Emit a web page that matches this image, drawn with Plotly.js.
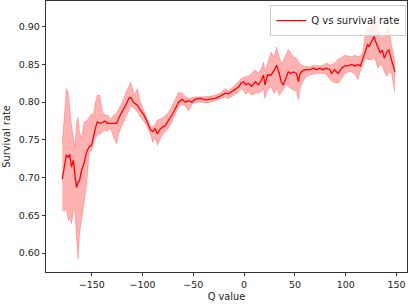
<!DOCTYPE html>
<html>
<head>
<meta charset="utf-8">
<script src="https://cdn.plot.ly/plotly-3.0.1.min.js"></script>
<style>html,body{margin:0;padding:0;background:#fff;}#chart{width:412px;height:304px;}</style>
</head>
<body>
<div id="chart"></div>
<script>
var qValues = [-179,-177,-175,-173,-171.5,-170,-168,-166.5,-165,-163.5,-162,-160,-157.5,-155,-152.5,-150,-148.5,-146.5,-144.5,-142,-139.5,-137,-134.5,-131.5,-128,-125.5,-123,-120,-116.5,-113.5,-111.5,-108.5,-105,-102,-98.5,-95.5,-92,-90,-87.5,-85.5,-83.5,-80.5,-77.5,-74,-71,-67.5,-64.5,-61,-58,-54.5,-51.5,-48,-43,-38,-33,-28.5,-23.5,-18.5,-15.5,-12,-9,-5.5,-3,-0.5,1.5,4,7.5,11,14,17,19,20.5,23,26.5,29.5,32,34.5,36.5,38.5,41,43.5,46,48.5,51.5,53.5,55,58,61.5,65,68,71.5,74.5,77.5,81,84.5,86,89,92.5,96,99,102.5,105.5,109,112,114.5,117,119.5,121.5,123,125,128,129.5,131.5,134,136,138,140.5,142.5,145,147,148.5];

var survivalRate = [0.698,0.715,0.730,0.727,0.731,0.714,0.723,0.703,0.687,0.694,0.696,0.710,0.719,0.734,0.741,0.743,0.754,0.765,0.774,0.772,0.773,0.775,0.772,0.772,0.771,0.772,0.780,0.787,0.796,0.805,0.806,0.799,0.796,0.789,0.783,0.774,0.763,0.761,0.765,0.758,0.763,0.767,0.769,0.777,0.783,0.792,0.800,0.804,0.800,0.802,0.800,0.804,0.805,0.803,0.804,0.805,0.808,0.812,0.811,0.814,0.817,0.820,0.825,0.827,0.823,0.825,0.821,0.827,0.823,0.829,0.836,0.823,0.836,0.836,0.842,0.849,0.838,0.827,0.823,0.831,0.840,0.838,0.840,0.838,0.827,0.838,0.842,0.843,0.843,0.845,0.843,0.845,0.843,0.845,0.843,0.838,0.843,0.838,0.845,0.848,0.848,0.850,0.848,0.850,0.848,0.858,0.869,0.876,0.874,0.880,0.887,0.880,0.872,0.865,0.869,0.858,0.867,0.869,0.856,0.845,0.840];

var upperBound = [0.745,0.780,0.818,0.812,0.785,0.770,0.754,0.739,0.772,0.780,0.760,0.752,0.774,0.775,0.780,0.785,0.780,0.800,0.809,0.809,0.787,0.783,0.783,0.778,0.783,0.786,0.792,0.800,0.812,0.822,0.827,0.809,0.818,0.800,0.789,0.778,0.767,0.768,0.770,0.776,0.777,0.779,0.782,0.788,0.795,0.805,0.813,0.812,0.807,0.805,0.806,0.807,0.807,0.807,0.808,0.809,0.812,0.818,0.815,0.819,0.823,0.827,0.831,0.833,0.834,0.834,0.838,0.843,0.838,0.845,0.853,0.842,0.851,0.866,0.860,0.873,0.860,0.852,0.855,0.862,0.870,0.865,0.860,0.858,0.853,0.851,0.848,0.847,0.847,0.849,0.848,0.848,0.849,0.852,0.849,0.850,0.852,0.857,0.859,0.862,0.861,0.860,0.862,0.860,0.861,0.867,0.895,0.898,0.899,0.902,0.911,0.909,0.896,0.887,0.885,0.889,0.896,0.902,0.876,0.860,0.854];

var lowerBound = [0.657,0.655,0.659,0.643,0.648,0.639,0.655,0.657,0.621,0.592,0.625,0.645,0.668,0.690,0.734,0.736,0.745,0.752,0.756,0.757,0.760,0.763,0.761,0.765,0.752,0.745,0.760,0.770,0.780,0.789,0.795,0.792,0.787,0.780,0.774,0.767,0.756,0.747,0.754,0.743,0.749,0.756,0.761,0.766,0.774,0.785,0.794,0.797,0.795,0.788,0.797,0.800,0.800,0.799,0.800,0.802,0.804,0.807,0.805,0.808,0.810,0.813,0.817,0.816,0.810,0.814,0.809,0.812,0.812,0.814,0.818,0.805,0.816,0.820,0.811,0.818,0.809,0.812,0.816,0.823,0.820,0.818,0.816,0.814,0.803,0.818,0.828,0.834,0.836,0.837,0.838,0.838,0.838,0.836,0.830,0.828,0.826,0.825,0.831,0.838,0.840,0.840,0.837,0.830,0.842,0.851,0.858,0.857,0.856,0.856,0.858,0.855,0.845,0.850,0.848,0.840,0.834,0.840,0.838,0.823,0.812];

var xTickVals = [-150,-100,-50,0,50,100,150];
var xTickText = ["\u2212150","\u2212100","\u221250","0","50","100","150"];
var yTickVals = [0.60,0.65,0.70,0.75,0.80,0.85,0.90];
var yTickText = ["0.60","0.65","0.70","0.75","0.80","0.85","0.90"];

var FONT = "DejaVu Sans, sans-serif";
var band = "rgba(255,0,0,0.3)";

var traces = [
  {x: qValues, y: lowerBound, mode: "lines", line: {color: band, width: 0.7}, showlegend: false, hoverinfo: "skip"},
  {x: qValues, y: upperBound, mode: "lines", fill: "tonexty", fillcolor: band, line: {color: band, width: 0.7}, showlegend: false, hoverinfo: "skip"},
  {x: qValues, y: survivalRate, mode: "lines", name: "Q vs survival rate", line: {color: "#ff0000", width: 1.3}}
];

var axisCommon = {
  showline: true, mirror: true, linecolor: "#000", linewidth: 0.8,
  ticks: "outside", ticklen: 3.5, tickwidth: 0.8, tickcolor: "#000",
  showgrid: false, zeroline: false,
  tickfont: {family: FONT, size: 9.5, color: "#222"}
};

var layout = {
  width: 412, height: 304,
  margin: {l: 46, r: 4.5, t: 1, b: 32},
  paper_bgcolor: "#fff", plot_bgcolor: "#fff",
  font: {family: FONT, color: "#222"},
  xaxis: Object.assign({}, axisCommon, {
    range: [-195, 160.3], tickmode: "array", tickvals: xTickVals, ticktext: xTickText,
    title: {text: "Q value", font: {family: FONT, size: 9.8, color: "#222"}, standoff: 4}
  }),
  yaxis: Object.assign({}, axisCommon, {
    range: [0.575, 0.934], tickmode: "array", tickvals: yTickVals, ticktext: yTickText,
    title: {text: "Survival rate", font: {family: FONT, size: 9.8, color: "#222"}, standoff: 6}
  }),
  legend: {
    x: 0.998, xanchor: "right", y: 0.985, yanchor: "top",
    bgcolor: "rgba(255,255,255,0.8)", bordercolor: "#cccccc", borderwidth: 1,
    font: {family: FONT, size: 10, color: "#222"}
  },
  showlegend: true
};

Plotly.newPlot("chart", traces, layout, {staticPlot: true, displayModeBar: false});
</script>
</body>
</html>
